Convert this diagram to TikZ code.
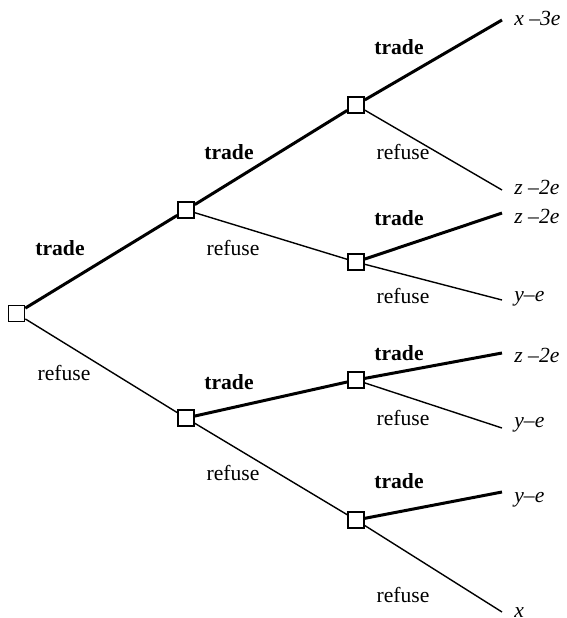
\documentclass[tikz,border=0pt]{standalone}
\usepackage{fontspec}
\setmainfont{Liberation Serif}
\tikzset{
  choice/.style={draw, line width=0.8pt, minimum size=8pt, inner sep=0pt, fill=white},
  tradeline/.style={line width=1.5pt},
  refuseline/.style={line width=0.7pt},
  tradelbl/.style={font=\fontsize{10.8}{13}\selectfont\bfseries, inner sep=0pt},
  refuselbl/.style={font=\fontsize{10.8}{13}\selectfont, inner sep=0pt},
  payoff/.style={font=\fontsize{10.8}{13}\selectfont\itshape, anchor=west, inner sep=0pt},
}

\begin{document}
\begin{tikzpicture}[x=0.5pt, y=-0.5pt]
    \useasboundingbox (0,0) rectangle (567,618);
    % decision nodes
    \node[choice] (n0) at (16.5, 313.5) {};
    \node[choice] (n1) at (186, 210) {};
    \node[choice] (n2) at (186, 418) {};
    \node[choice] (n11) at (356, 105) {};
    \node[choice] (n12) at (356, 262) {};
    \node[choice] (n21) at (356, 380) {};
    \node[choice] (n22) at (356, 520) {};
    % end points
    \coordinate (e1) at (502, 20);
    \coordinate (e2) at (502, 190);
    \coordinate (e3) at (502, 213);
    \coordinate (e4) at (502, 300);
    \coordinate (e5) at (502, 353);
    \coordinate (e6) at (502, 428);
    \coordinate (e7) at (502, 492);
    \coordinate (e8) at (502, 612);
    % branches
    \draw[tradeline] (n0) -- (n1);
    \draw[refuseline] (n0) -- (n2);
    \draw[tradeline] (n1) -- (n11);
    \draw[refuseline] (n1) -- (n12);
    \draw[tradeline] (n2) -- (n21);
    \draw[refuseline] (n2) -- (n22);
    \draw[tradeline] (n11) -- (e1);
    \draw[refuseline] (n11) -- (e2);
    \draw[tradeline] (n12) -- (e3);
    \draw[refuseline] (n12) -- (e4);
    \draw[tradeline] (n21) -- (e5);
    \draw[refuseline] (n21) -- (e6);
    \draw[tradeline] (n22) -- (e7);
    \draw[refuseline] (n22) -- (e8);
    % branch labels
    \node[tradelbl] (t0) at (60, 248) {trade};
    \node[refuselbl] (r0) at (64, 373) {refuse};
    \node[tradelbl] (t1) at (229, 152) {trade};
    \node[refuselbl] (r1) at (233, 248) {refuse};
    \node[tradelbl] (t2) at (229, 382) {trade};
    \node[refuselbl] (r2) at (233, 473) {refuse};
    \node[tradelbl] (t11) at (399, 47) {trade};
    \node[refuselbl] (r11) at (403, 152) {refuse};
    \node[tradelbl] (t12) at (399, 218) {trade};
    \node[refuselbl] (r12) at (403, 296) {refuse};
    \node[tradelbl] (t21) at (399, 353) {trade};
    \node[refuselbl] (r21) at (403, 418) {refuse};
    \node[tradelbl] (t22) at (399, 481) {trade};
    \node[refuselbl] (r22) at (403, 595) {refuse};
    % payoffs
    \node[payoff] (p1) at (514, 18) {x –3e};
    \node[payoff] (p2) at (514, 187) {z –2e};
    \node[payoff] (p3) at (514, 216) {z –2e};
    \node[payoff] (p4) at (514, 299) {y–e};
    \node[payoff] (p5) at (514, 355) {z –2e};
    \node[payoff] (p6) at (514, 425) {y–e};
    \node[payoff] (p7) at (514, 500) {y–e};
    \node[payoff] (p8) at (514, 613) {x};
\end{tikzpicture}
\end{document}
